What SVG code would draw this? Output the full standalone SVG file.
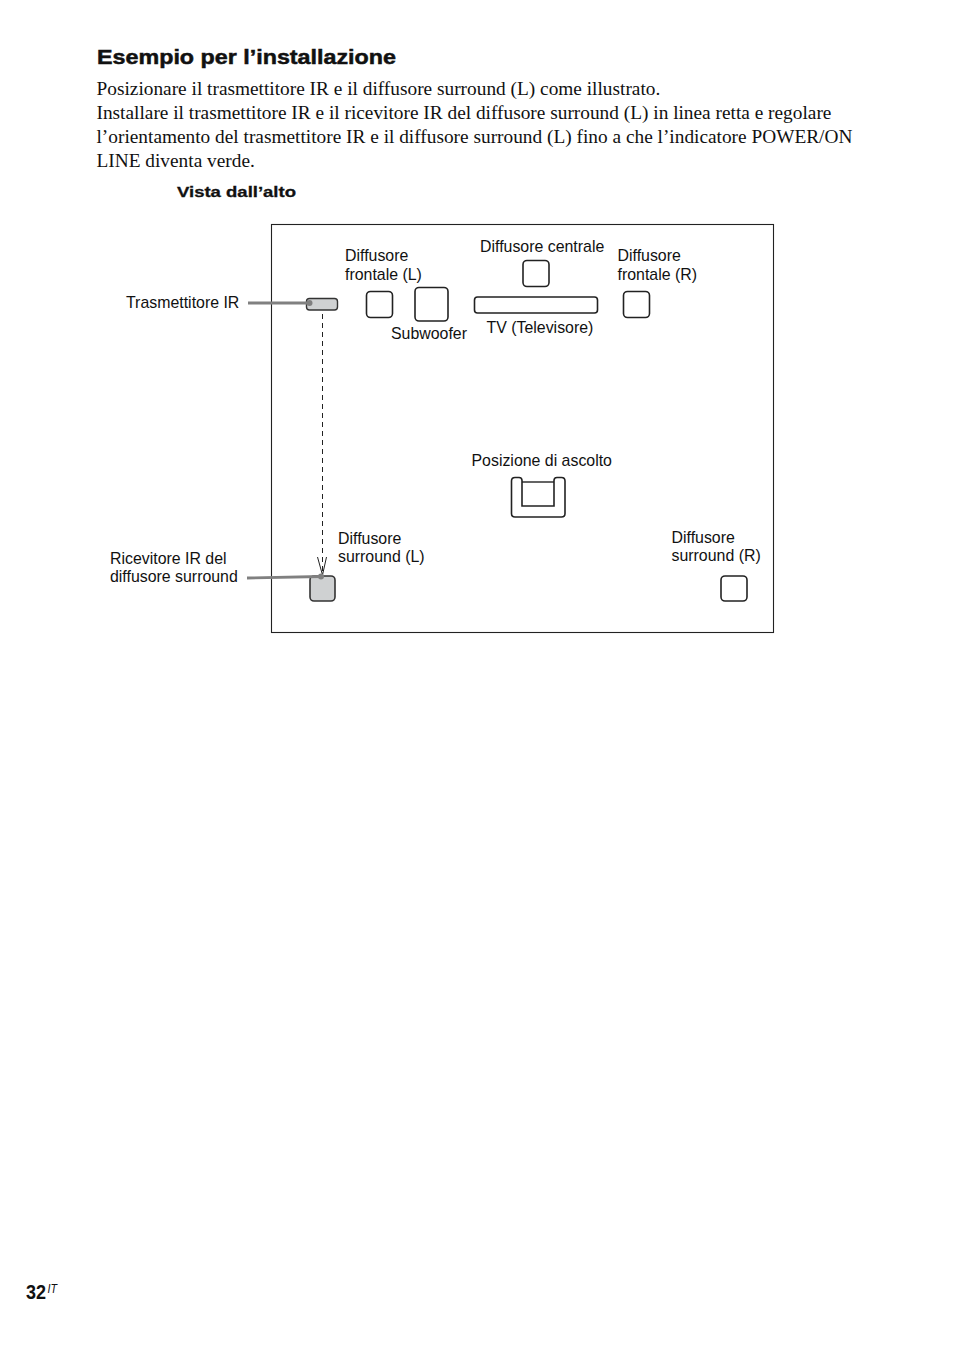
<svg xmlns="http://www.w3.org/2000/svg" width="954" height="1352" viewBox="0 0 954 1352">
<style>
text{fill:#111}
.s{font:19.33px "Liberation Serif",serif}
.l{font:15.9px "Liberation Sans",Arial,sans-serif}
.b{fill:#fff;stroke:#222;stroke-width:1.6}
.g{fill:#cfd1d2;stroke:#333;stroke-width:1.4}
.lead{fill:none;stroke:#808080;stroke-width:2.8}
</style>
<rect width="954" height="1352" fill="#fff"/>
<text x="97" y="63.500" style="font:bold 20.500px 'Liberation Sans',sans-serif;stroke:#111;stroke-width:.5" textLength="299" lengthAdjust="spacingAndGlyphs">Esempio per l’installazione</text>
<g class="s">
<text x="96.500" y="95">Posizionare il trasmettitore IR e il diffusore surround (L) come illustrato.</text>
<text x="96.500" y="119">Installare il trasmettitore IR e il ricevitore IR del diffusore surround (L) in linea retta e regolare</text>
<text x="96.500" y="143">l’orientamento del trasmettitore IR e il diffusore surround (L) fino a che l’indicatore POWER/ON</text>
<text x="96.500" y="167">LINE diventa verde.</text>
</g>
<text x="177" y="197" style="font:bold 15px 'Liberation Sans',sans-serif;stroke:#111;stroke-width:.3" textLength="119" lengthAdjust="spacingAndGlyphs">Vista dall’alto</text>
<rect x="271.500" y="224.500" width="502" height="408" fill="none" stroke="#222" stroke-width="1.100"/>
<g id="connectors">
<path d="M322.500 314V572" fill="none" stroke="#222" stroke-width="1" stroke-dasharray="5 4"/>
<path d="M317.500 557L322.500 575L326.500 557" fill="none" stroke="#222" stroke-width="1"/>
</g>
<g id="transmitter"><rect class="g" x="306.500" y="298.500" width="31" height="11.500" rx="3"/>
<text class="l" x="126" y="307.500">Trasmettitore IR</text></g>
<g id="front-l"><rect class="b" x="366.500" y="291.500" width="26" height="26" rx="4"/>
<text class="l" x="345" y="261">Diffusore</text><text class="l" x="345" y="279.500">frontale (L)</text></g>
<g id="subwoofer"><rect class="b" x="415" y="287.500" width="33" height="33.500" rx="4"/>
<text class="l" x="391" y="338.500">Subwoofer</text></g>
<g id="center"><rect class="b" x="523" y="260.500" width="26" height="26" rx="4"/>
<text class="l" x="480" y="251.500">Diffusore centrale</text></g>
<g id="tv"><rect class="b" x="474.500" y="297" width="123" height="16" rx="3"/>
<text class="l" x="486.500" y="332.500">TV (Televisore)</text></g>
<g id="front-r"><rect class="b" x="623.500" y="291.500" width="26" height="26" rx="4"/>
<text class="l" x="617.500" y="261">Diffusore</text><text class="l" x="617.500" y="280">frontale (R)</text></g>
<g id="listening"><path class="b" d="M515 477.500H519Q522 477.500 522 480.500V506H554V480.500Q554 477.500 557 477.500H561.500Q565 477.500 565 481V513.500Q565 517 561.500 517H515Q511.500 517 511.500 513.500V481Q511.500 477.500 515 477.500Z"/>
<path d="M522 482H554" fill="none" stroke="#222" stroke-width="1.400"/>
<text class="l" x="471.500" y="466">Posizione di ascolto</text></g>
<g id="surround-l"><rect class="g" x="310" y="576" width="25" height="25" rx="4" style="stroke-width:1.600"/>
<text class="l" x="338" y="544">Diffusore</text><text class="l" x="338" y="562">surround (L)</text>
<text class="l" x="110" y="564">Ricevitore IR del</text><text class="l" x="110" y="582">diffusore surround</text></g>
<g id="surround-r"><rect class="b" x="721" y="576" width="26" height="25" rx="4"/>
<text class="l" x="671.500" y="543">Diffusore</text><text class="l" x="671.500" y="561">surround (R)</text></g>
<g id="leaders">
<path class="lead" d="M248 303H310"/><circle cx="309.500" cy="303" r="3" fill="#808080"/>
<path class="lead" d="M247 578L321 576.500"/><circle cx="321" cy="576.500" r="3" fill="#808080"/>
</g>
<text x="26" y="1299" style="font:bold 21px 'Liberation Sans',sans-serif" textLength="20" lengthAdjust="spacingAndGlyphs">32</text>
<text x="47.500" y="1292.500" style="font:italic 13px 'Liberation Sans',sans-serif" textLength="9.500" lengthAdjust="spacingAndGlyphs">IT</text>
</svg>
